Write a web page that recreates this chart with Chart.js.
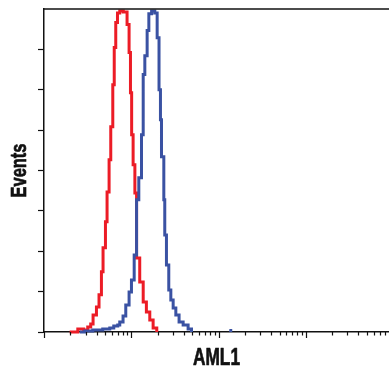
<!DOCTYPE html>
<html>
<head>
<meta charset="utf-8">
<script src="https://cdn.jsdelivr.net/npm/chart.js@4.4.1/dist/chart.umd.min.js"></script>
<style>
  html, body { margin: 0; padding: 0; background: #fff; }
</style>
</head>
<body>
<canvas id="chart" width="389" height="373"></canvas>
<script>
// histogram steps: x = AML1 intensity where a step starts, counts = level held until next x
const redX = [1.97, 2.44, 2.85, 3.17, 3.43, 3.65, 3.99, 4.27, 4.55, 4.75, 5.06, 5.28, 5.57, 5.82, 6.14, 6.38, 6.64,
  6.95, 7.38, 8.10, 8.95, 9.44, 9.79, 10.1, 10.5, 11.0, 11.5, 12.5, 13.7, 14.9, 16.3, 17.8, 19.6];
const redCounts = [0, 1.5, 1, 2.5, 4, 8.4, 12.4, 18.4, 29.8, 41.7, 54.6, 69.4, 85.3, 101.7, 122.5, 140.9, 153.3,
  158, 159, 158.5, 152.3, 138.4, 118.5, 97.7, 82.8, 68.9, 36.7, 24.8, 14.9, 9.9, 6, 2, 0];

const blueX = [2.57, 2.93, 3.62, 4.71, 5.67, 6.30, 7.00, 7.38, 8.05, 8.65, 9.44, 10.05, 10.8, 11.5, 12.2, 13.1, 13.7,
  14.3, 15.2, 15.9, 17.1, 18.6, 19.8, 20.8, 21.6, 22.2, 23.6, 24.2, 25.3, 26.9, 28.4, 30.2, 32.4, 35.3, 39.3, 44.8,
  49.0, 90, 133, 138];
const blueCounts = [0, 0.5, 1, 1.5, 2, 3, 3.5, 5, 7.9, 13.4, 19.8, 25.8, 38.2, 65.5, 76.4, 97.7, 127.5,
  136.9, 149.3, 157.7, 159, 158, 145.8, 120, 105.2, 86.8, 65.5, 48.1, 33.2, 20.8, 15.9, 11.9, 8.4, 5, 3.5, 1.5,
  0, null, 0.8, 0];

const yTicks = [0, 20, 40, 60, 80, 100, 120, 140, 160];
const xMin = 1;
const xMax = 8980;
const xTitle = 'AML1';
const yTitle = 'Events';

const ink = '#111';

// condensed bold label: squeeze a normal bold face to the wanted width
function drawLabel(ctx, text, x, y, angle, size, width) {
  ctx.save();
  ctx.translate(x, y);
  ctx.rotate(angle);
  ctx.font = 'bold ' + size + 'px "Liberation Sans", Arial, sans-serif';
  const w = ctx.measureText(text).width;
  ctx.scale(width / w, 1);
  ctx.fillStyle = ink;
  ctx.strokeStyle = ink;
  ctx.lineWidth = 0.7;
  ctx.lineJoin = 'round';
  ctx.textAlign = 'center';
  ctx.textBaseline = 'alphabetic';
  ctx.fillText(text, 0, 0);
  ctx.strokeText(text, 0, 0);
  ctx.restore();
}

// top frame line, log ticks (long at decades, short in between), axis titles
const axisMarks = {
  id: 'axisMarks',
  afterDraw(chart) {
    const { ctx, chartArea: a } = chart;
    const x = chart.scales.x;
    ctx.save();
    ctx.strokeStyle = ink;
    ctx.lineWidth = 1.5;
    ctx.beginPath();
    ctx.moveTo(a.left, a.top);
    ctx.lineTo(a.right, a.top);
    ctx.stroke();

    ctx.lineWidth = 1.2;
    x.ticks.forEach(t => {
      const v = t.value;
      const exp = Math.floor(Math.log10(v) + 1e-9);
      const m = v / Math.pow(10, exp);
      if (Math.abs(m - Math.round(m)) > 1e-6) return;
      const px = Math.round(x.getPixelForValue(v)) + 0.5;
      const len = Math.round(m) === 1 ? 6 : 3.5;
      ctx.beginPath();
      ctx.moveTo(px, a.bottom);
      ctx.lineTo(px, a.bottom + len);
      ctx.stroke();
    });
    ctx.restore();

    drawLabel(ctx, xTitle, (x.left + x.right) / 2, 365, 0, 23, 47);
    drawLabel(ctx, yTitle, 26, (a.top + a.bottom) / 2, -Math.PI / 2, 22, 54);
  }
};

const toPoints = (xs, ys) => xs.map((x, i) => ({ x: x, y: ys[i] }));

new Chart(document.getElementById('chart'), {
  type: 'line',
  data: {
    datasets: [{
      label: 'AML1',
      data: toPoints(blueX, blueCounts),
      borderColor: '#3a52a3',
      borderWidth: 3,
      stepped: true,
      pointRadius: 0,
      fill: false,
      clip: false,
      spanGaps: false
    }, {
      label: 'Control',
      data: toPoints(redX, redCounts),
      borderColor: '#ec1c26',
      borderWidth: 3,
      stepped: true,
      pointRadius: 0,
      fill: false,
      clip: false
    }]
  },
  options: {
    responsive: false,
    animation: false,
    layout: { padding: { top: 9, right: 0, left: 0, bottom: 0 } },
    plugins: {
      legend: { display: false },
      tooltip: { enabled: false }
    },
    scales: {
      x: {
        type: 'logarithmic',
        min: xMin,
        max: xMax,
        ticks: { display: false },
        grid: { display: false },
        border: { display: true, color: ink, width: 1.5 },
        afterFit: s => { s.height = 41; }
      },
      y: {
        min: 0,
        max: 160,
        afterBuildTicks: s => { s.ticks = yTicks.map(v => ({ value: v })); },
        ticks: { display: false },
        grid: {
          drawOnChartArea: false,
          tickLength: 6,
          tickWidth: 1.2,
          tickColor: c => (c.tick && c.tick.value === 160) ? 'rgba(0,0,0,0)' : ink
        },
        border: { color: ink, width: 1.5 },
        afterFit: s => { s.width = 44; }
      }
    }
  },
  plugins: [axisMarks]
});
</script>
</body>
</html>
